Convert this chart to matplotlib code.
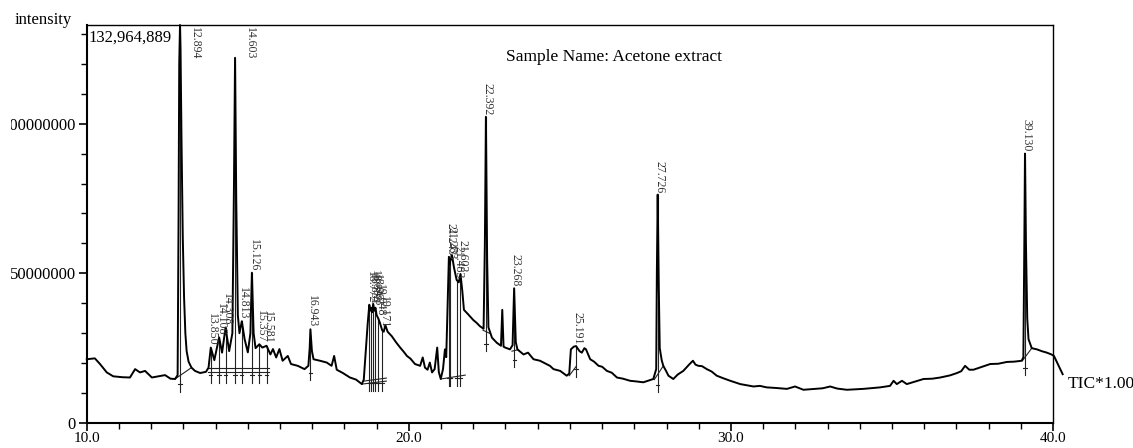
import matplotlib

matplotlib.use("Agg")
import matplotlib.pyplot as plt
import numpy as np
from matplotlib.patches import Rectangle
from matplotlib.ticker import FixedLocator, MultipleLocator

plt.rcParams["font.family"] = ["Liberation Serif", "DejaVu Serif"]

# TIC trace, retention time (min) vs intensity (millions of counts)
rt = [10.00, 10.25, 10.41, 10.62, 10.82, 11.10, 11.34, 11.50, 11.65, 11.81, 12.02, 12.22, 12.43,
      12.60, 12.74, 12.82, 12.85, 12.87, 12.894, 12.91, 12.94, 12.98, 13.02, 13.06, 13.10, 13.16,
      13.25, 13.36, 13.52, 13.70, 13.78, 13.850, 13.96, 14.108, 14.20, 14.308, 14.42, 14.52, 14.57,
      14.603, 14.64, 14.69, 14.74, 14.813, 14.90, 15.00, 15.08, 15.126, 15.18, 15.24, 15.357,
      15.45, 15.581, 15.70, 15.78, 15.88, 15.98, 16.08, 16.24, 16.34, 16.55, 16.76, 16.88, 16.92,
      16.943, 16.99, 17.04, 17.24, 17.45, 17.60, 17.68, 17.76, 17.95, 18.17, 18.36, 18.54, 18.60,
      18.66, 18.72, 18.772, 18.80, 18.831, 18.86, 18.892, 18.93, 18.963, 19.00, 19.048, 19.10,
      19.171, 19.22, 19.27, 19.34, 19.47, 19.60, 19.73, 19.84, 19.94, 20.05, 20.19, 20.35, 20.43,
      20.50, 20.58, 20.65, 20.72, 20.80, 20.88, 20.93, 20.99, 21.06, 21.12, 21.16, 21.20, 21.243,
      21.27, 21.283, 21.34, 21.40, 21.483, 21.55, 21.602, 21.66, 21.71, 21.85, 22.00, 22.10, 22.21,
      22.32, 22.36, 22.392, 22.43, 22.47, 22.58, 22.73, 22.86, 22.90, 22.94, 22.99, 23.14, 23.22,
      23.268, 23.32, 23.37, 23.56, 23.70, 23.87, 24.07, 24.18, 24.38, 24.49, 24.70, 24.90, 24.98,
      25.03, 25.12, 25.191, 25.30, 25.37, 25.45, 25.50, 25.63, 25.75, 25.89, 26.00, 26.15, 26.30,
      26.46, 26.65, 26.87, 27.05, 27.28, 27.45, 27.59, 27.68, 27.70, 27.726, 27.76, 27.79, 27.85,
      27.90, 27.98, 28.06, 28.21, 28.35, 28.52, 28.70, 28.82, 28.90, 28.99, 29.10, 29.25, 29.40,
      29.56, 29.75, 29.98, 30.15, 30.29, 30.50, 30.70, 30.90, 31.11, 31.40, 31.74, 31.99, 32.25,
      32.60, 32.85, 33.08, 33.30, 33.60, 34.11, 34.63, 34.94, 35.05, 35.15, 35.31, 35.46, 35.70,
      35.98, 36.25, 36.50, 36.80, 37.02, 37.15, 37.27, 37.40, 37.53, 37.80, 38.05, 38.30, 38.57,
      38.80, 39.03, 39.08, 39.11, 39.130, 39.16, 39.20, 39.24, 39.34, 39.50, 39.65, 39.81, 39.95,
      40.03, 40.30]
tic = [21.3, 21.6, 19.7, 16.9, 15.6, 15.3, 15.2, 18.0, 16.9, 17.4, 15.2, 15.6, 16.0,
       14.8, 14.7, 16.0, 70.0, 120.0, 132.96, 125.0, 95.0, 62.0, 42.0, 30.0, 24.0, 20.5,
       18.5, 17.4, 16.7, 17.1, 18.5, 25.2, 21.0, 28.6, 23.5, 31.9, 24.0, 30.0, 80.0,
       122.0, 75.0, 36.0, 30.0, 34.0, 28.0, 23.6, 30.0, 50.2, 30.0, 25.0, 26.3,
       25.2, 25.8, 22.9, 24.7, 21.9, 24.7, 20.8, 22.4, 19.7, 19.1, 18.0, 19.1, 25.0,
       31.3, 24.0, 21.3, 20.8, 20.2, 19.1, 22.4, 17.8, 16.7, 15.2, 14.5, 13.0, 14.5,
       24.0, 33.0, 39.5, 37.5, 38.5, 37.0, 39.8, 37.5, 38.5, 36.0, 35.0, 33.5,
       31.0, 30.5, 32.7, 30.5, 29.0, 27.0, 25.2, 23.8, 22.4, 21.5, 19.7, 19.1, 21.9,
       18.5, 17.8, 20.2, 16.9, 18.0, 25.2, 17.0, 14.7, 18.0, 24.6, 22.0, 38.0, 55.5,
       53.0, 54.0, 56.0, 52.0, 47.8, 47.0, 49.8, 44.0, 37.8, 36.2, 34.4, 33.5, 32.3,
       31.5, 60.0, 102.3, 55.0, 32.0, 28.5, 26.8, 25.8, 37.8, 25.5, 25.2, 24.6, 26.0,
       45.0, 27.0, 24.6, 22.9, 23.5, 21.3, 20.8, 20.2, 19.1, 18.0, 17.4, 15.8, 16.5,
       24.6, 25.5, 25.7, 24.0, 23.5, 25.0, 24.6, 21.3, 20.5, 19.1, 18.8, 17.4, 16.8,
       15.2, 14.8, 14.1, 13.9, 13.6, 14.2, 14.7, 18.0, 50.0, 76.3, 45.0, 25.0, 21.0,
       19.1, 17.5, 15.8, 14.7, 16.2, 17.4, 19.5, 20.8, 19.5, 19.1, 19.0, 18.0, 17.2,
       15.8, 15.0, 14.1, 13.5, 13.0, 12.6, 12.2, 12.4, 11.9, 11.7, 11.4, 12.2, 11.1,
       11.4, 11.6, 12.2, 11.5, 11.1, 11.4, 11.9, 12.4, 14.1, 13.0, 14.1, 13.0, 13.8,
       14.7, 14.8, 15.2, 15.9, 16.7, 17.3, 19.1, 17.8, 17.8, 18.8, 19.7, 19.8, 20.4,
       20.5, 20.8, 22.0, 60.0, 90.0, 60.0, 35.0, 28.0, 25.0, 24.6, 24.0, 23.5, 22.9,
       22.4, 16.3]

# detected peaks: retention time, apex, lower end of the marker line (millions)
peak_rt = [12.894, 13.850, 14.108, 14.308, 14.603, 14.813, 15.126, 15.357, 15.581, 16.943,
           18.772, 18.831, 18.892, 18.963, 19.048, 19.171,
           21.243, 21.283, 21.483, 21.602, 22.392, 23.268, 25.191, 27.726, 39.130]
peak_top = [132.96, 25.2, 28.6, 31.9, 122.0, 34.0, 50.2, 26.3, 25.8, 31.3,
            39.5, 38.5, 39.8, 38.5, 35.0, 31.0,
            55.5, 54.0, 47.8, 49.8, 102.3, 45.0, 25.7, 76.3, 90.0]
peak_low = [10.5, 13.5, 13.5, 13.5, 13.5, 13.5, 13.5, 13.5, 13.5, 14.2,
            10.8, 10.8, 10.8, 10.8, 10.8, 10.8,
            12.4, 12.4, 12.4, 12.4, 24.0, 18.7, 15.5, 10.3, 16.0]
peak_labels = [f"{v:.3f}" for v in peak_rt]

# integration baselines (start/end retention time and intensity)
base_t0 = [12.74, 13.75, 13.75, 18.55, 18.60, 20.99, 22.30, 23.20, 24.98, 27.62, 39.05]
base_i0 = [14.7, 18.3, 17.0, 13.0, 14.0, 14.7, 31.0, 24.0, 15.8, 14.5, 20.8]
base_t1 = [13.25, 15.65, 15.65, 19.30, 19.30, 21.75, 22.50, 23.40, 25.20, 27.90, 39.34]
base_i1 = [18.5, 18.3, 17.0, 14.0, 15.0, 16.0, 30.0, 24.5, 19.0, 19.1, 25.0]

Y_MAX = 132964889

fig = plt.figure(figsize=(11.33, 4.48), dpi=100)
ax = fig.add_axes([86.8 / 1133, 25 / 448, 966.2 / 1133, 398 / 448])

M = 1e6
ax.plot(rt, np.array(tic) * M, color="black", lw=1.4, clip_on=False, zorder=3)

for t, top, low in zip(peak_rt, peak_top, peak_low):
    ax.plot([t, t], [low * M, top * M], color="#222222", lw=0.8, zorder=2)
    ax.plot([t - 0.05, t + 0.05], [(low + 2.5) * M] * 2, color="#222222", lw=0.8, zorder=2)

for t0, i0, t1, i1 in zip(base_t0, base_i0, base_t1, base_i1):
    ax.plot([t0, t1], [i0 * M, i1 * M], color="#222222", lw=0.8, zorder=2)

for t, top, lab in zip(peak_rt, peak_top, peak_labels):
    if top > 110:
        ax.text(t + 0.45, Y_MAX * 0.995, lab, rotation=-90, ha="center", va="top",
                fontsize=8.5, color="#333333")
    else:
        ax.text(t + 0.05, top * M + 0.6 * M, lab, rotation=-90, ha="center", va="bottom",
                fontsize=8.5, color="#333333")

ax.set_xlim(10, 40)
ax.set_ylim(0, Y_MAX)
ax.xaxis.set_major_locator(FixedLocator([10, 20, 30, 40]))
ax.xaxis.set_minor_locator(MultipleLocator(1))
ax.set_xticklabels(["10.0", "20.0", "30.0", "40.0"])
ax.yaxis.set_major_locator(FixedLocator([0, 50000000, 100000000]))
ax.yaxis.set_minor_locator(MultipleLocator(10000000))
ax.set_yticklabels(["0", "50000000", "100000000"])
ax.tick_params(which="major", direction="out", length=6, width=1.2, labelsize=12, pad=2)
ax.tick_params(axis="x", which="major", labelsize=11, pad=0.5)
ax.tick_params(which="minor", direction="out", length=4, width=1.0)
for side in ["left", "bottom"]:
    ax.spines[side].set_linewidth(1.5)
for side in ["top", "right"]:
    ax.spines[side].set_linewidth(1.0)

ax.text(0.002, 0.968, "132,964,889", transform=ax.transAxes, ha="left", va="center", fontsize=12)
ax.text(0.546, 0.92, "Sample Name: Acetone extract", transform=ax.transAxes,
        ha="center", va="center", fontsize=12.5)
ax.text(40.47, 13 * M, "TIC*1.00", ha="left", va="center", fontsize=12.5, clip_on=False)
fig.text(15 / 1133, 1 - 20 / 448, "intensity", ha="left", va="center", fontsize=12)

# the scan is cropped on the left edge
fig.patches.append(Rectangle((0, 0), 11 / 1133, 1, transform=fig.transFigure,
                             facecolor="white", edgecolor="none", zorder=10))

fig.savefig("out.png", dpi=100)
